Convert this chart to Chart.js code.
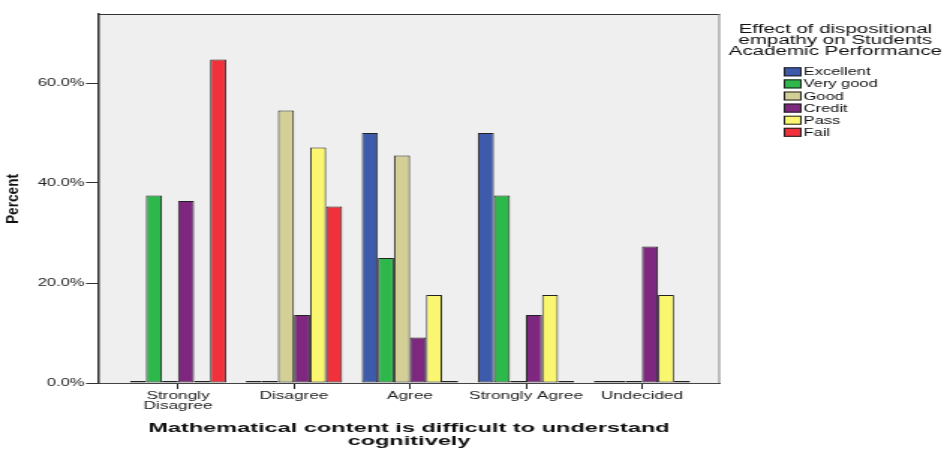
<!DOCTYPE html>
<html>
<head>
<meta charset="utf-8">
<script src="https://cdn.jsdelivr.net/npm/chart.js@4.4.1/dist/chart.umd.min.js"></script>
<style>
  html, body { margin: 0; padding: 0; background: #fff; overflow: hidden; }
  /* the original export is stretched sideways, so draw narrow and widen */
  #wrap { width: 630px; height: 449px; transform: scaleX(1.4984); transform-origin: 0 0; }
</style>
</head>
<body>
<div id="wrap"><canvas id="chart" width="630" height="449"></canvas></div>
<script>
const categories = [['Strongly', 'Disagree'], 'Disagree', 'Agree', 'Strongly Agree', 'Undecided'];
const excellent = [0, 0, 50.0, 50.0, 0];
const veryGood  = [37.5, 0, 25.0, 37.5, 0];
const good      = [0, 54.5, 45.5, 0, 0];
const credit    = [36.4, 13.6, 9.1, 13.6, 27.3];
const pass      = [0, 47.1, 17.6, 17.6, 17.6];
const fail      = [64.7, 35.3, 0, 0, 0];
const seriesNames = ['Excellent', 'Very good', 'Good', 'Credit', 'Pass', 'Fail'];
const seriesValues = [excellent, veryGood, good, credit, pass, fail];
const seriesColors = ['#3d5aab', '#2eb84b', '#d3cf96', '#7d287e', '#fbf66f', '#f0303a'];
const legendTitle = ['Effect of dispositional', 'empathy on Students', 'Academic Performance'];
const xTitle = ['Mathematical content is difficult to understand', 'cognitively'];
const yTitle = 'Percent';

const FONT = '"Liberation Sans", Arial, sans-serif';

const extras = {
  id: 'extras',
  beforeDraw(chart) {
    const { ctx, chartArea: a } = chart;
    ctx.save();
    ctx.fillStyle = '#efefef';
    ctx.fillRect(a.left, a.top, a.right - a.left, a.bottom - a.top);
    ctx.restore();
  },
  afterDraw(chart) {
    const { ctx, chartArea: a } = chart;
    ctx.save();
    // frame top and right
    ctx.lineWidth = 1;
    ctx.strokeStyle = '#333';
    ctx.beginPath(); ctx.moveTo(a.left, a.top + 0.5); ctx.lineTo(a.right, a.top + 0.5); ctx.stroke();
    ctx.strokeStyle = '#888';
    ctx.beginPath(); ctx.moveTo(a.right - 0.5, a.top); ctx.lineTo(a.right - 0.5, a.bottom); ctx.stroke();

    ctx.fillStyle = '#111';

    // y title
    ctx.save();
    ctx.translate(8.6, 199);
    ctx.rotate(-Math.PI / 2);
    ctx.font = 'bold 11px ' + FONT;
    const pw = ctx.measureText(yTitle).width;
    ctx.scale(50 / pw, 1);
    ctx.textAlign = 'center';
    ctx.textBaseline = 'middle';
    ctx.fillText(yTitle, 0, 0);
    ctx.restore();

    // x title
    const cx = (a.left + a.right) / 2;
    ctx.save();
    ctx.font = 'bold 13px ' + FONT;
    const sx = 348 / ctx.measureText(xTitle[0]).width;
    ctx.translate(cx, 0);
    ctx.scale(sx, 1);
    ctx.textAlign = 'center';
    ctx.textBaseline = 'alphabetic';
    ctx.fillText(xTitle[0], 0, 431.7);
    ctx.fillText(xTitle[1], 0, 445);
    ctx.restore();

    // legend
    ctx.font = '13.7px ' + FONT;
    ctx.textAlign = 'center';
    ctx.textBaseline = 'alphabetic';
    legendTitle.forEach((t, i) => ctx.fillText(t, 557.5, 32.7 + i * 11.3));

    ctx.font = '11px ' + FONT;
    ctx.textAlign = 'left';
    ctx.textBaseline = 'middle';
    chart.data.datasets.forEach((ds, i) => {
      const y = 71.8 + i * 12.1;
      ctx.fillStyle = ds.backgroundColor;
      ctx.fillRect(523, y - 4.5, 12, 9);
      ctx.strokeStyle = '#222';
      ctx.strokeRect(523.5, y - 4, 11, 8);
      ctx.fillStyle = '#111';
      ctx.fillText(ds.label, 536.3, y + 0.5);
    });
    ctx.restore();
  }
};

new Chart(document.getElementById('chart'), {
  type: 'bar',
  data: {
    labels: categories,
    datasets: seriesNames.map((name, i) => ({
      label: name,
      data: seriesValues[i],
      backgroundColor: seriesColors[i],
      borderColor: '#222',
      borderWidth: 1,
      borderSkipped: false,
      minBarLength: 2,
      categoryPercentage: 0.83,
      barPercentage: 1
    }))
  },
  options: {
    responsive: false,
    animation: false,
    devicePixelRatio: 1,
    layout: { padding: { top: 14, right: 149.5, left: 0, bottom: 0 } },
    plugins: { legend: { display: false }, tooltip: { enabled: false } },
    scales: {
      x: {
        offset: true,
        grid: { drawOnChartArea: false, offset: false, tickLength: 6, color: '#222' },
        border: { color: '#444' },
        ticks: {
          autoSkip: false, maxRotation: 0, padding: 2, color: '#222',
          font: { family: FONT, size: 11.5, lineHeight: 0.88 }
        },
        afterBuildTicks(scale) {
          // SPSS leaves wider margins at both ends than Chart.js offset does
          scale._startValue = -0.69;
          scale._valueRange = 5.363;
        },
        afterFit(scale) { scale.height = 66; }
      },
      y: {
        min: 0,
        max: 73.8,
        grid: { drawOnChartArea: false, tickLength: 8, color: '#333' },
        border: { color: '#333', width: 1.5 },
        ticks: {
          stepSize: 20, includeBounds: false, padding: 1, color: '#222',
          font: { family: FONT, size: 11 },
          callback: v => v.toFixed(1) + '%'
        },
        afterFit(scale) { scale.width = 65.4; }
      }
    }
  },
  plugins: [extras]
});
</script>
</body>
</html>
